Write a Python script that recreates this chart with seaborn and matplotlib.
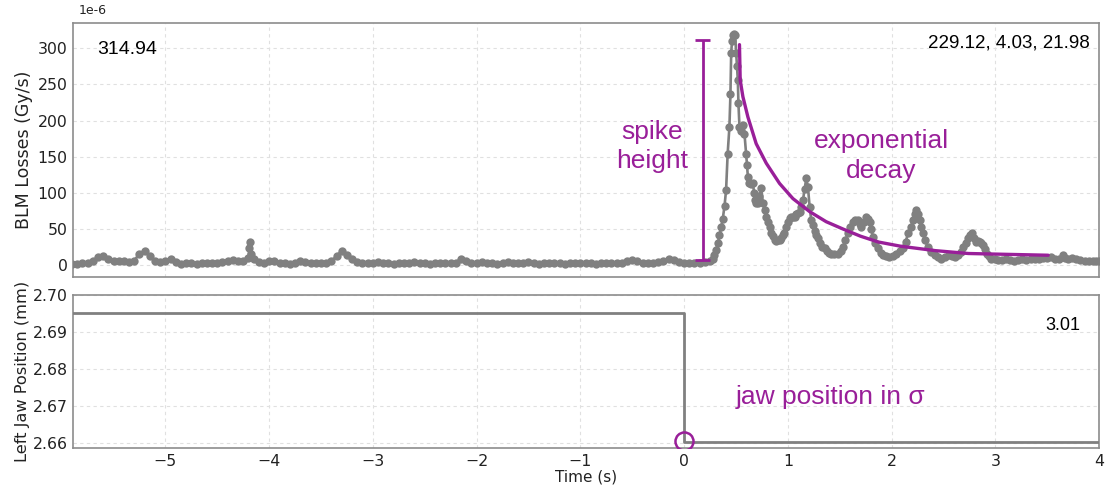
import numpy as np
import pandas as pd
import matplotlib
matplotlib.use("Agg")
import matplotlib.pyplot as plt
import seaborn as sns

# ---------------- data ----------------
# BLM losses, in units of 1e-6 Gy/s
blm_time = [
    -5.90, -5.85, -5.80, -5.75, -5.70, -5.65, -5.60, -5.55, -5.50, -5.45,
    -5.40, -5.35, -5.30, -5.25, -5.20, -5.15, -5.10, -5.05, -5.00, -4.95,
    -4.90, -4.85, -4.80, -4.75, -4.70, -4.65, -4.60, -4.55, -4.50, -4.45,
    -4.40, -4.35, -4.30, -4.25, -4.20, -4.19, -4.18, -4.17, -4.15, -4.10,
    -4.05, -4.00, -3.95, -3.90, -3.85, -3.80, -3.75, -3.70, -3.65, -3.60,
    -3.55, -3.50, -3.45, -3.40, -3.35, -3.30, -3.25, -3.20, -3.15, -3.10,
    -3.05, -3.00, -2.95, -2.90, -2.85, -2.80, -2.75, -2.70, -2.65, -2.60,
    -2.55, -2.50, -2.45, -2.40, -2.35, -2.30, -2.25, -2.20, -2.15, -2.10,
    -2.05, -2.00, -1.95, -1.90, -1.85, -1.80, -1.75, -1.70, -1.65, -1.60,
    -1.55, -1.50, -1.45, -1.40, -1.35, -1.30, -1.25, -1.20, -1.15, -1.10,
    -1.05, -1.00, -0.95, -0.90, -0.85, -0.80, -0.75, -0.70, -0.65, -0.60,
    -0.55, -0.50, -0.45, -0.40, -0.35, -0.30, -0.25, -0.20, -0.15, -0.10,
    -0.05, 0.00, 0.05, 0.10, 0.15, 0.20, 0.25,
    0.277, 0.29, 0.309, 0.325, 0.341, 0.357, 0.373, 0.39, 0.405, 0.42,
    0.437, 0.447, 0.454, 0.462, 0.47, 0.48, 0.492, 0.502, 0.51, 0.518,
    0.524, 0.534, 0.545, 0.556, 0.567, 0.582, 0.598, 0.607, 0.615, 0.63,
    0.645, 0.663, 0.675, 0.685, 0.698, 0.711, 0.727, 0.743, 0.76, 0.776,
    0.792, 0.808, 0.824, 0.84, 0.856, 0.872, 0.89, 0.905, 0.92, 0.935,
    0.952, 0.968, 0.985, 1.0, 1.017, 1.033, 1.049, 1.065, 1.08, 1.096,
    1.113, 1.13, 1.146, 1.162, 1.178, 1.194, 1.21, 1.226, 1.242, 1.26,
    1.275, 1.29, 1.31, 1.33, 1.354, 1.38, 1.40, 1.419, 1.45, 1.484,
    1.51, 1.532, 1.555, 1.58, 1.60, 1.628, 1.65, 1.677, 1.695, 1.71,
    1.73, 1.757, 1.775, 1.79, 1.805, 1.82, 1.845, 1.87, 1.895, 1.92,
    1.95, 1.98, 2.01, 2.046, 2.08, 2.11, 2.135, 2.16, 2.185, 2.21,
    2.225, 2.24, 2.255, 2.27, 2.285, 2.30, 2.325, 2.35, 2.385, 2.42,
    2.45, 2.48, 2.515, 2.55, 2.58, 2.61, 2.64, 2.665, 2.69, 2.715,
    2.74, 2.76, 2.78, 2.795, 2.81, 2.83, 2.85, 2.865, 2.88, 2.90,
    2.92, 2.94, 2.96, 3.00, 3.03, 3.06, 3.10, 3.14, 3.18, 3.22,
    3.26, 3.30, 3.34, 3.38, 3.42, 3.46, 3.50, 3.54, 3.58, 3.61,
    3.65, 3.675, 3.70, 3.74, 3.78, 3.82, 3.86, 3.90, 3.94, 3.97, 4.00,
]
blm_loss = [
    2, 2, 3, 3, 6, 11, 12, 8, 6, 6,
    5, 4, 6, 16, 20, 13, 6, 4, 5, 8,
    4, 2, 3, 3, 2, 3, 3, 3, 3, 4,
    5, 7, 5, 6, 10, 23, 32, 16, 8, 4,
    3, 5, 5, 3, 3, 2, 3, 5, 4, 3,
    3, 3, 3, 6, 12, 20, 14, 8, 4, 3,
    3, 3, 4, 3, 3, 2, 3, 3, 3, 4,
    3, 3, 2, 3, 3, 3, 3, 3, 9, 6,
    3, 3, 4, 3, 3, 2, 3, 4, 3, 3,
    3, 4, 3, 2, 3, 3, 3, 3, 2, 3,
    3, 3, 3, 3, 2, 3, 3, 3, 3, 3,
    5, 7, 5, 3, 3, 3, 4, 5, 8, 7,
    4, 3, 3, 3, 3, 4, 6,
    9, 14, 21, 30, 41, 52, 64, 82, 104, 154,
    191, 237, 293, 310, 318, 320, 318, 293, 275, 256,
    224, 191, 186, 192, 194, 182, 154, 138, 122, 113,
    112, 113, 100, 90, 86, 86, 96, 106, 86, 76,
    67, 60, 53, 45, 40, 35, 33, 34, 35, 38,
    41, 44, 53, 60, 65, 67, 66, 67, 70, 72,
    74, 80, 90, 105, 120, 108, 81, 62, 55, 47,
    42, 38, 30, 25, 23, 19, 17, 16, 15, 16,
    19, 25, 34, 44, 53, 60, 63, 62, 57, 53,
    60, 67, 64, 60, 50, 39, 30, 23, 17, 14,
    12, 11, 13, 16, 19, 23, 32, 44, 53, 62,
    70, 76, 70, 62, 53, 44, 34, 25, 18, 14,
    11, 9, 11, 14, 13, 11, 14, 18, 25, 31,
    37, 41, 44, 38, 32, 33, 32, 30, 28, 22,
    16, 12, 9, 8, 7, 7, 8, 7, 6, 7,
    8, 7, 8, 9, 9, 10, 10, 11, 9, 8,
    14, 10, 8, 10, 9, 7, 6, 6, 5, 5, 5,
]

# Fitted exponential decay, 1e-6 Gy/s
decay_time = [0.534, 0.541, 0.567, 0.615, 0.695, 0.792, 0.92, 1.049, 1.21,
              1.37, 1.53, 1.70, 1.87, 2.09, 2.42, 2.74, 3.06, 3.51]
decay_loss = [305, 256, 233, 205, 168, 141, 113, 92, 74,
              60, 50, 40, 32, 26, 20, 16, 15, 13.6]

# Left jaw position (mm)
jaw_time = [-5.9, 0.0, 0.0, 4.0]
jaw_pos = [2.695, 2.695, 2.6603, 2.6603]

spike_time = 0.18
spike_bottom = 7.3
spike_top = 312

top_left_label = "314.94"
top_right_label = "229.12, 4.03, 21.98"
bottom_right_label = "3.01"
offset_label = "1e-6"

SCALE = 1e-6
PURPLE = "#991f99"
GRAY = "#808080"

# ---------------- styling ----------------
sns.set_theme(style="whitegrid")
plt.rcParams["font.family"] = ["DejaVu Sans"]
plt.rcParams.update({
    "grid.linestyle": (0, (3, 3)),
    "grid.color": "#e0e0e0",
    "grid.linewidth": 0.8,
    "axes.edgecolor": "#8c8c8c",
    "axes.linewidth": 1.2,
    "xtick.major.size": 2.5,
    "ytick.major.size": 2.5,
    "xtick.major.pad": 1.5,
    "ytick.major.pad": 1.5,
    "xtick.color": "#8c8c8c",
    "ytick.color": "#8c8c8c",
    "xtick.labelcolor": "#222222",
    "ytick.labelcolor": "#222222",
    "xtick.labelsize": 11.3,
    "ytick.labelsize": 11.3,
    "axes.labelsize": 11,
    "axes.labelcolor": "#222222",
})

fig = plt.figure(figsize=(11.07, 4.88), dpi=100)
ax1 = fig.add_axes([0.066, 0.4324, 0.9268, 0.5205])
ax2 = fig.add_axes([0.066, 0.082, 0.9268, 0.3135], sharex=ax1)

blm_df = pd.DataFrame({"t": blm_time, "loss": np.array(blm_loss) * SCALE})
decay_df = pd.DataFrame({"t": decay_time, "loss": np.array(decay_loss) * SCALE})
jaw_df = pd.DataFrame({"t": jaw_time, "pos": jaw_pos})

# top panel
sns.lineplot(data=blm_df, x="t", y="loss", ax=ax1, color=GRAY, lw=1.9,
             marker="o", markersize=6.0, markeredgewidth=0, estimator=None,
             sort=False, zorder=3)
sns.lineplot(data=decay_df, x="t", y="loss", ax=ax1, color=PURPLE, lw=2.4,
             estimator=None, sort=False, zorder=4)
ax1.vlines(spike_time, spike_bottom * SCALE, spike_top * SCALE, color=PURPLE,
           lw=2.0, zorder=4)
ax1.hlines([spike_bottom * SCALE, spike_top * SCALE], spike_time - 0.072,
           spike_time + 0.072, color=PURPLE, lw=2.0, zorder=4)

ax1.set_ylim(-16.5 * SCALE, 335 * SCALE)
ax1.set_yticks(np.array([0, 50, 100, 150, 200, 250, 300]) * SCALE)
ax1.ticklabel_format(axis="y", style="sci", scilimits=(-6, -6))
ax1.yaxis.get_offset_text().set_visible(False)
ax1.text(0.005, 1.025, offset_label, transform=ax1.transAxes, fontsize=9,
         color="#222222", ha="left", va="bottom")
ax1.set_ylabel("BLM Losses (Gy/s)", fontsize=12.5, labelpad=3)
ax1.set_xlabel("")
ax1.tick_params(axis="x", labelbottom=False)

txt_font = ["Liberation Sans", "DejaVu Sans"]
ax1.text(0.024, 0.896, top_left_label, transform=ax1.transAxes, fontsize=14,
         family=txt_font, color="black", va="center", ha="left")
ax1.text(0.991, 0.922, top_right_label, transform=ax1.transAxes, fontsize=13.5,
         family=txt_font, color="black", va="center", ha="right")
ax1.text(-0.31, 164 * SCALE, "spike\nheight", fontsize=19, family=txt_font,
         color=PURPLE, ha="center", va="center", linespacing=1.3)
ax1.text(1.90, 151 * SCALE, "exponential\ndecay", fontsize=19, family=txt_font,
         color=PURPLE, ha="center", va="center", linespacing=1.3)

# bottom panel
sns.lineplot(data=jaw_df, x="t", y="pos", ax=ax2, color=GRAY, lw=2.0,
             estimator=None, sort=False, zorder=3)
ax2.plot([0.0], [2.6605], marker="o", markersize=13, markerfacecolor="none",
         markeredgecolor=PURPLE, markeredgewidth=1.8, zorder=5)
ax2.set_ylim(2.6586, 2.70)
ax2.set_yticks([2.66, 2.67, 2.68, 2.69, 2.70])
ax2.set_yticklabels(["2.66", "2.67", "2.68", "2.69", "2.70"])
ax2.set_xlim(-5.89, 4.0)
ax2.set_xticks([-5, -4, -3, -2, -1, 0, 1, 2, 3, 4])
ax2.set_xlabel("Time (s)", labelpad=1.0)
ax2.set_ylabel("Left Jaw Position (mm)", fontsize=11.7, labelpad=2)
ax2.text(0.982, 0.80, bottom_right_label, transform=ax2.transAxes, fontsize=13,
         family=txt_font, color="black", va="center", ha="right")
ax2.text(0.5, 2.6724, "jaw position in σ", fontsize=19, family=txt_font,
         color=PURPLE, ha="left", va="center")

for ax in (ax1, ax2):
    ax.grid(True)
    for s in ax.spines.values():
        s.set_color("#8c8c8c")

fig.savefig("out.png", dpi=100)
